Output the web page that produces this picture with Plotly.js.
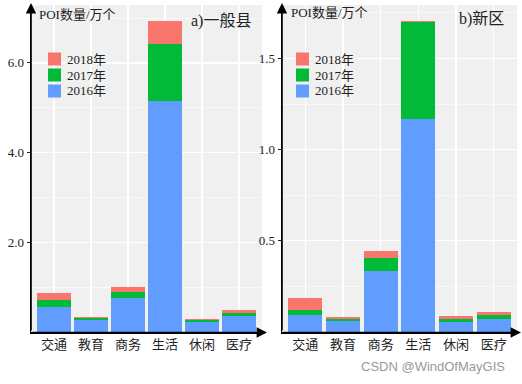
<!DOCTYPE html>
<html><head><meta charset="utf-8">
<script src="https://cdn.plot.ly/plotly-3.0.1.min.js"></script>
<style>html,body{margin:0;padding:0;background:#fff}#chart{width:522px;height:384px}</style>
</head><body><div id="chart"></div>
<script>
var categories = ['交通','教育','商务','生活','休闲','医疗'];
var years = ['2016年','2017年','2018年'];
// a) 一般县 (increments per year, 万个)
var countyY2016 = [0.55, 0.26, 0.75, 5.15, 0.22, 0.35];
var countyY2017 = [0.16, 0.045, 0.14, 1.28, 0.04, 0.067];
var countyY2018 = [0.17, 0.03, 0.11, 0.51, 0.03, 0.073];
// b) 新区
var newY2016 = [0.091, 0.062, 0.336, 1.166, 0.055, 0.071];
var newY2017 = [0.029, 0.008, 0.071, 0.534, 0.018, 0.022];
var newY2018 = [0.066, 0.014, 0.038, 0.008, 0.015, 0.017];
var leftTicks = [2, 4, 6], leftTickText = ['2.0','4.0','6.0'], leftMinor = [1, 3, 5, 7];
var rightTicks = [0.5, 1.0, 1.5], rightTickText = ['0.5','1.0','1.5'], rightMinor = [0.25, 0.75, 1.25, 1.75];

var colors = ['#619CFF', '#00BA38', '#F8766D'];
var W = 522, H = 384;
var FONT = 'Liberation Serif, Noto Sans CJK SC, serif';

function px(x){ return x / W; }
function py(y){ return 1 - y / H; }

var traces = [];
[countyY2016, countyY2017, countyY2018].forEach(function(v, i){
  traces.push({type:'bar', x:categories, y:v, name:years[i], xaxis:'x', yaxis:'y',
    marker:{color:colors[i], line:{width:0}}, showlegend:false, hoverinfo:'x+y'});
});
[newY2016, newY2017, newY2018].forEach(function(v, i){
  traces.push({type:'bar', x:categories, y:v, name:years[i], xaxis:'x2', yaxis:'y2',
    marker:{color:colors[i], line:{width:0}}, showlegend:false, hoverinfo:'x+y'});
});

function yax(range, tv, tt, minor, anchor, domain){
  return {range:range, domain:domain, anchor:anchor, tickvals:tv, ticktext:tt,
    ticks:'outside', ticklen:3, tickwidth:1, tickcolor:'#222', showline:true, linecolor:'#000', linewidth:1.5,
    showgrid:true, gridcolor:'#fff', gridwidth:1.3, zeroline:false,
    minor:{tickvals:minor, showgrid:true, gridcolor:'#fff', gridwidth:0.6, ticks:''},
    tickfont:{family:FONT, size:13, color:'#222'}, fixedrange:true};
}
function xax(domain, anchor){
  return {domain:domain, anchor:anchor, range:[-0.62, 5.62], type:'category', ticks:'',
    showline:true, linecolor:'#000', linewidth:1.5, showgrid:true, gridcolor:'#fff', gridwidth:1.3,
    tickfont:{family:FONT, size:13, color:'#222'}, fixedrange:true};
}

var annotations = [
  {xref:'paper', yref:'paper', x:px(37), y:py(14), xanchor:'left', yanchor:'middle', showarrow:false,
   text:'POI数量/万个', font:{family:FONT, size:13, color:'#222'}},
  {xref:'paper', yref:'paper', x:px(289), y:py(13), xanchor:'left', yanchor:'middle', showarrow:false,
   text:'POI数量/万个', font:{family:FONT, size:13, color:'#222'}},
  {xref:'paper', yref:'paper', x:px(189), y:py(21), xanchor:'left', yanchor:'middle', showarrow:false,
   text:'a)一般县', font:{family:FONT, size:16, color:'#222'}},
  {xref:'paper', yref:'paper', x:px(457), y:py(19), xanchor:'left', yanchor:'middle', showarrow:false,
   text:'b)新区', font:{family:FONT, size:16, color:'#222'}},
  {xref:'paper', yref:'paper', x:px(507), y:py(366), xanchor:'right', yanchor:'middle', showarrow:false,
   text:'CSDN @WindOfMayGIS', font:{family:'Liberation Sans, Arial, sans-serif', size:13, color:'#999'}},
  // axis arrows
  {xref:'paper', yref:'paper', x:px(31), y:py(3), ax:0, ay:329, showarrow:true, text:'', arrowhead:2, arrowsize:1.3, arrowwidth:1.6, arrowcolor:'#000'},
  {xref:'paper', yref:'paper', x:px(267), y:py(332.5), ax:-236, ay:0, showarrow:true, text:'', arrowhead:2, arrowsize:1.3, arrowwidth:1.6, arrowcolor:'#000'},
  {xref:'paper', yref:'paper', x:px(282), y:py(3), ax:0, ay:329, showarrow:true, text:'', arrowhead:2, arrowsize:1.3, arrowwidth:1.6, arrowcolor:'#000'},
  {xref:'paper', yref:'paper', x:px(521), y:py(332.5), ax:-239, ay:0, showarrow:true, text:'', arrowhead:2, arrowsize:1.3, arrowwidth:1.6, arrowcolor:'#000'}
];
// legends (2018 on top)
var shapes = [];
[48, 296].forEach(function(lx){
  for (var k = 0; k < 3; k++){
    var idx = 2 - k, cy = 59 + 16 * k;
    shapes.push({type:'rect', xref:'paper', yref:'paper', x0:px(lx), x1:px(lx + 13), y0:py(cy + 6.5), y1:py(cy - 6.5),
      fillcolor:colors[idx], line:{width:0}, layer:'above'});
    annotations.push({xref:'paper', yref:'paper', x:px(lx + 17), y:py(cy), xanchor:'left', yanchor:'middle',
      showarrow:false, text:years[idx], font:{family:FONT, size:13, color:'#222'}});
  }
});

var yDom = [py(332), py(5)];
var layout = {
  width:W, height:H, margin:{l:0, r:0, t:0, b:0},
  paper_bgcolor:'#fff', plot_bgcolor:'#F0F0F0',
  barmode:'stack', bargap:0.1, showlegend:false,
  font:{family:FONT, color:'#222'},
  xaxis: xax([px(31), px(262)], 'y'),
  yaxis: yax([0, 7.29], leftTicks, leftTickText, leftMinor, 'x', yDom),
  xaxis2: xax([px(282), px(517)], 'y2'),
  yaxis2: yax([0, 1.793], rightTicks, rightTickText, rightMinor, 'x2', yDom),
  annotations: annotations,
  shapes: shapes
};
Plotly.newPlot('chart', traces, layout, {staticPlot:true, displayModeBar:false});
</script></body></html>
